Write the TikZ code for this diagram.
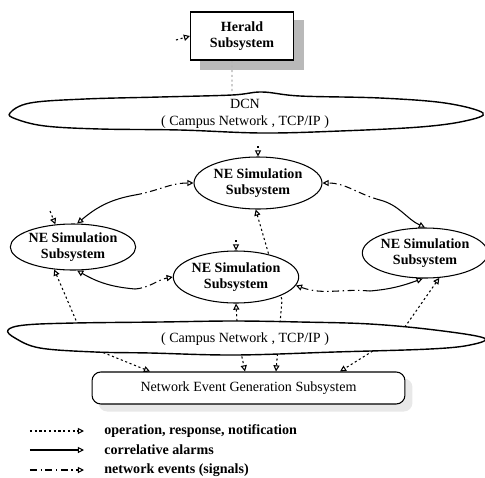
\documentclass[tikz,border=0pt]{standalone}
\usepackage{fontspec}
\setmainfont{Liberation Serif}
\usetikzlibrary{shapes.geometric,arrows.meta,backgrounds}
\tikzset{
  nesub/.style={ellipse,draw,fill=white,line width=0.6pt,inner sep=0pt,align=center,font=\fontsize{8}{9.5}\selectfont\bfseries},
  opln/.style={line width=0.6pt,dash pattern=on 1.2pt off 1.5pt},
  alarmln/.style={line width=0.6pt},
  eventln/.style={line width=0.6pt,dash pattern=on 4pt off 2pt on 0.8pt off 2pt},
  cloudln/.style={draw,fill=white,line width=0.8pt},
  nettxt/.style={font=\fontsize{8}{9.5}\selectfont},
  legendtxt/.style={anchor=west,inner sep=0pt,font=\fontsize{8}{9.5}\selectfont\bfseries}
}

\begin{document}
\begin{tikzpicture}[x=0.02cm,y=0.02cm,>={Triangle[open,length=3.5pt,width=3.5pt]}]
\useasboundingbox (0,0) rectangle (485,-478);

\draw[cloudln] plot[smooth cycle,tension=0.6] coordinates {(10,-113) (30,-103) (85,-99) (160,-97) (232,-95) (262,-92) (300,-96) (380,-98) (445,-103) (483,-113) (465,-121) (420,-127) (340,-131) (262,-133) (180,-130) (100,-129) (45,-126) (16,-119)};
\node[nettxt,align=center] (dcn) at (245,-114) {DCN\\( Campus Network , TCP/IP )};

\draw[cloudln] plot[smooth cycle,tension=0.6] coordinates {(8,-330) (25,-325) (75,-323) (160,-322) (233,-321) (300,-322) (370,-324) (435,-330) (484,-338) (470,-345) (430,-349) (335,-352) (235,-355) (150,-353) (95,-352) (40,-348) (15,-338)};
\node[nettxt] (lan) at (245,-339) {( Campus Network , TCP/IP )};

\node[draw,fill=white,line width=0.6pt,minimum width=2.06cm,minimum height=0.96cm,align=center,font=\fontsize{8}{9.5}\selectfont\bfseries] (herald) at (242,-36) {Herald\\Subsystem};

\node[nesub,minimum width=2.56cm,minimum height=1.04cm] (topNE) at (258,-183) {NE Simulation\\Subsystem};
\node[nesub,minimum width=2.48cm,minimum height=0.92cm] (leftNE) at (73,-247) {NE Simulation\\Subsystem};
\node[nesub,minimum width=2.48cm,minimum height=1.04cm] (midNE) at (236,-277) {NE Simulation\\Subsystem};
\node[nesub,minimum width=2.48cm,minimum height=1.0cm] (rightNE) at (425,-253) {NE Simulation\\Subsystem};

\node[draw,fill=white,rounded corners=5pt,line width=0.6pt,minimum width=6.26cm,minimum height=0.64cm,nettxt] (net) at (248.5,-388) {Network Event Generation Subsystem};

\node[legendtxt] (lgop) at (104,-431) {operation, response, notification};
\node[legendtxt] (lgal) at (104,-450) {correlative alarms};
\node[legendtxt] (lgev) at (104,-470) {network events (signals)};
\coordinate (k1) at (30,-431);
\coordinate (k2) at (30,-450);
\coordinate (k3) at (30,-470);
\draw[opln,->,shorten >=0.4cm] (k1) -- (lgop.west);
\draw[alarmln,->,shorten >=0.4cm] (k2) -- (lgal.west);
\draw[eventln,->,shorten >=0.4cm] (k3) -- (lgev.west);

\begin{scope}[on background layer]
\fill[gray!55] ([shift={(10,-9)}]herald.south west) rectangle ([shift={(10,-9)}]herald.north east);
\fill[gray!18,rounded corners=5pt] ([shift={(7,-7)}]net.south west) rectangle ([shift={(7,-7)}]net.north east);

\coordinate (s1) at (176,-40);
\coordinate (s2) at (258,-146);
\coordinate (s3) at (236,-240);
\coordinate (s4) at (50,-211);
\draw[opln,->] (s1) -- (herald.west);
\draw[opln,->] (s2) -- (topNE.north);
\draw[opln,->] (s3) -- (midNE.north);
\draw[opln,->] (s4) -- (leftNE.128);
\draw[opln,gray!60] ([xshift=-0.2cm]herald.south) -- ([xshift=-0.26cm]dcn.north);

\coordinate (m1) at (135,-195);
\coordinate (m2) at (380,-200);
\coordinate (m3) at (135,-289);
\coordinate (m4) at (370,-291);
\draw[eventln,->] (m1) to[out=10,in=180] (topNE.west);
\draw[alarmln,->] (m1) to[out=190,in=40] (leftNE.80);
\draw[eventln,->] (m2) to[out=165,in=0] (topNE.east);
\draw[alarmln,->] (m2) to[out=-15,in=155] (rightNE.north);
\draw[alarmln,->] (m3) to[out=175,in=-30] (leftNE.-80);
\draw[eventln,->] (m3) to[out=5,in=190] (midNE.west);
\draw[eventln,->] (m4) to[out=175,in=-20] (midNE.-8);
\draw[alarmln,->] (m4) to[out=5,in=200] (rightNE.-95);

\draw[opln,<->] (leftNE.-130) -- (87,-346) -- ([xshift=-1.97cm]net.north);
\draw[opln,<->] (midNE.south) -- (238,-338) -- ([xshift=-0.07cm]net.north);
\draw[opln,<->] (topNE.-95) -- (282,-300) -- ([xshift=0.55cm]net.north);
\draw[opln,<->] (rightNE.-60) -- (400,-334) -- ([xshift=1.83cm]net.north);
\end{scope}
\end{tikzpicture}
\end{document}
